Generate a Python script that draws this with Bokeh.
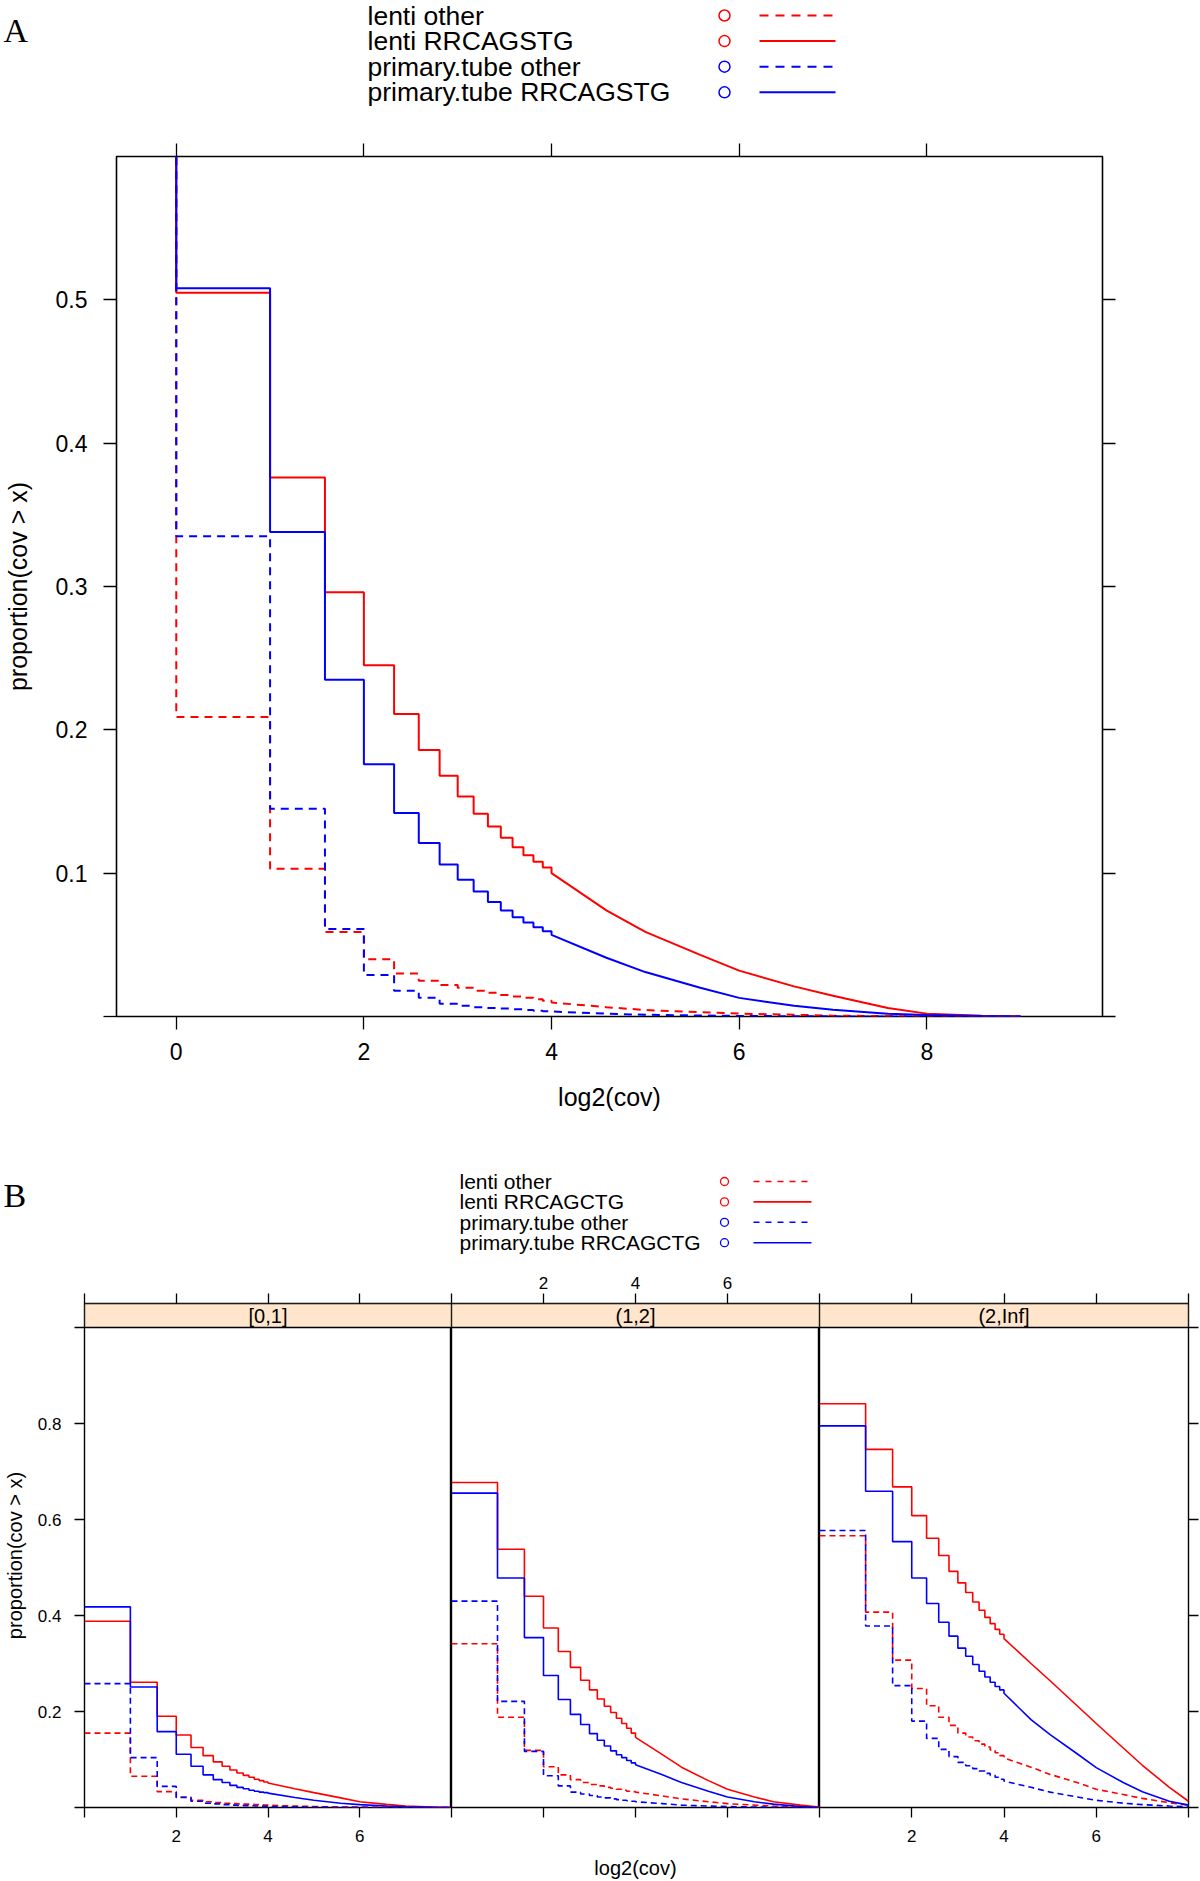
import numpy as np
from bokeh.plotting import figure
from bokeh.layouts import column, row
from bokeh.models import Range1d, FixedTicker, LinearAxis
from bokeh.embed import file_html
from bokeh.resources import INLINE
from bokeh.core.properties import value

SANS = "Liberation Sans"
SERIF = "Liberation Serif"

# ---------------- data ----------------
series_names_a = ["lenti other", "lenti RRCAGSTG", "primary.tube other", "primary.tube RRCAGSTG"]
series_names_b = ["lenti other", "lenti RRCAGCTG", "primary.tube other", "primary.tube RRCAGCTG"]
series_colors = ["red", "red", "blue", "blue"]
series_dashed = [True, False, True, False]
start_value = 1.0  # proportion(cov > x) left of the first coverage step

# Panel A: coverage thresholds (x = log2(cov)) and proportions
cov_a = [1, 2, 3, 4, 5, 6, 7, 8, 9, 10, 11, 12, 13, 14, 15, 16, 24, 32, 48, 64, 96, 128, 192, 256, 384, 512]
a_lenti_other = [0.209, 0.103, 0.059, 0.040, 0.030, 0.025, 0.022, 0.020, 0.018, 0.0165, 0.015, 0.014, 0.013,
                 0.012, 0.011, 0.0098, 0.0065, 0.0045, 0.003, 0.002, 0.0012, 0.0006, 0.0003, 0.0001, 0.0, 0.0]
a_lenti_motif = [0.505, 0.376, 0.296, 0.245, 0.211, 0.186, 0.168, 0.1535, 0.1414, 0.1326, 0.1247, 0.118, 0.1125,
                 0.108, 0.104, 0.100, 0.074, 0.059, 0.043, 0.032, 0.021, 0.0145, 0.006, 0.002, 0.0005, 0.0]
a_tube_other = [0.335, 0.145, 0.061, 0.029, 0.018, 0.013, 0.0089, 0.0075, 0.0065, 0.006, 0.0055, 0.005, 0.0045,
                0.004, 0.0037, 0.0035, 0.002, 0.0012, 0.0007, 0.0004, 0.0002, 0.0001, 0.0, 0.0, 0.0, 0.0]
a_tube_motif = [0.508, 0.338, 0.235, 0.176, 0.142, 0.121, 0.106, 0.0954, 0.0872, 0.0798, 0.074, 0.0693, 0.0656,
                0.0623, 0.0595, 0.057, 0.041, 0.031, 0.020, 0.013, 0.0075, 0.0047, 0.002, 0.001, 0.0003, 0.0]

a_yticks = [0.1, 0.2, 0.3, 0.4, 0.5]
a_xticks = [0, 2, 4, 6, 8]

# Panel B: three coverage strata
strip_labels = ["[0,1]", "(1,2]", "(2,Inf]"]
cov_b = [1, 2, 3, 4, 5, 6, 7, 8, 9, 10, 11, 12, 13, 14, 15, 16, 24, 32, 48, 64, 96, 128, 192, 256]

b1_lenti_other = [0.155, 0.065, 0.033, 0.0215, 0.015, 0.012, 0.0105, 0.009, 0.008, 0.0075, 0.007, 0.0065, 0.006,
                  0.0055, 0.005, 0.0046, 0.003, 0.002, 0.001, 0.0005, 0.0002, 0.0001, 0.0, 0.0]
b1_lenti_motif = [0.388, 0.261, 0.19, 0.151, 0.125, 0.108, 0.095, 0.086, 0.078, 0.072, 0.067, 0.063, 0.059,
                  0.056, 0.053, 0.051, 0.039, 0.031, 0.020, 0.012, 0.0065, 0.003, 0.001, 0.0]
b1_tube_other = [0.258, 0.104, 0.044, 0.021, 0.013, 0.009, 0.0075, 0.006, 0.005, 0.0045, 0.004, 0.0035, 0.003,
                 0.0028, 0.0025, 0.002, 0.0015, 0.001, 0.0005, 0.0002, 0.0001, 0.0, 0.0, 0.0]
b1_tube_motif = [0.418, 0.251, 0.158, 0.111, 0.086, 0.068, 0.058, 0.052, 0.046, 0.042, 0.039, 0.036, 0.034,
                 0.032, 0.031, 0.030, 0.021, 0.015, 0.009, 0.006, 0.003, 0.0015, 0.0005, 0.0]

b2_lenti_other = [0.341, 0.188, 0.119, 0.085, 0.068, 0.058, 0.052, 0.048, 0.045, 0.042, 0.040, 0.038, 0.036,
                  0.034, 0.033, 0.032, 0.024, 0.018, 0.012, 0.008, 0.005, 0.003, 0.001, 0.0]
b2_lenti_motif = [0.677, 0.538, 0.44, 0.374, 0.325, 0.292, 0.265, 0.245, 0.226, 0.211, 0.198, 0.186, 0.175,
                  0.165, 0.155, 0.146, 0.110, 0.084, 0.056, 0.038, 0.022, 0.012, 0.005, 0.001]
b2_tube_other = [0.43, 0.221, 0.117, 0.066, 0.045, 0.032, 0.028, 0.025, 0.022, 0.020, 0.018, 0.0165, 0.015,
                 0.014, 0.013, 0.012, 0.008, 0.005, 0.003, 0.002, 0.001, 0.0005, 0.0002, 0.0]
b2_tube_motif = [0.655, 0.478, 0.354, 0.275, 0.225, 0.194, 0.173, 0.154, 0.14, 0.128, 0.118, 0.110, 0.104,
                 0.098, 0.093, 0.089, 0.068, 0.052, 0.034, 0.022, 0.012, 0.007, 0.002, 0.0]

b3_lenti_other = [0.566, 0.407, 0.307, 0.248, 0.212, 0.188, 0.171, 0.155, 0.147, 0.139, 0.132, 0.126, 0.120,
                  0.114, 0.108, 0.103, 0.084, 0.069, 0.052, 0.038, 0.027, 0.019, 0.010, 0.005]
b3_lenti_motif = [0.841, 0.746, 0.668, 0.608, 0.561, 0.525, 0.492, 0.468, 0.448, 0.428, 0.411, 0.396, 0.383,
                  0.371, 0.361, 0.352, 0.300, 0.264, 0.212, 0.175, 0.124, 0.088, 0.042, 0.013]
b3_tube_other = [0.577, 0.378, 0.254, 0.18, 0.144, 0.121, 0.106, 0.094, 0.087, 0.081, 0.076, 0.071, 0.067,
                 0.063, 0.059, 0.055, 0.042, 0.032, 0.022, 0.015, 0.009, 0.006, 0.003, 0.0015]
b3_tube_motif = [0.795, 0.659, 0.554, 0.478, 0.425, 0.386, 0.357, 0.332, 0.315, 0.298, 0.284, 0.272, 0.261,
                 0.252, 0.245, 0.238, 0.183, 0.152, 0.112, 0.083, 0.052, 0.033, 0.013, 0.005]

b_panels = [
    [b1_lenti_other, b1_lenti_motif, b1_tube_other, b1_tube_motif],
    [b2_lenti_other, b2_lenti_motif, b2_tube_other, b2_tube_motif],
    [b3_lenti_other, b3_lenti_motif, b3_tube_other, b3_tube_motif],
]
b_yticks = [0.2, 0.4, 0.6, 0.8]
b_xticks = [2, 4, 6]


# ---------------- helpers ----------------
def step_path(cov, vals, start=None, last_step_cov=16):
    lx = np.log2(np.asarray(cov, dtype=float))
    xs, ys = [], []
    if start is not None:
        xs.append(lx[0]); ys.append(start)
    for i in range(len(lx)):
        if i > 0 and cov[i] <= last_step_cov:
            xs.append(lx[i]); ys.append(vals[i - 1])
        xs.append(lx[i]); ys.append(vals[i])
    return xs, ys


def style_axis(ax, label_px, tick_len, title_px=None, standoff=5, title_standoff=5):
    ax.axis_line_color = None
    ax.major_tick_line_color = "black"
    ax.minor_tick_line_color = "black"
    ax.major_tick_line_width = 1.3
    ax.minor_tick_line_width = 1.3
    ax.major_tick_in = 0
    ax.minor_tick_in = 0
    ax.major_tick_out = tick_len
    ax.minor_tick_out = tick_len
    ax.major_label_text_font = SANS
    ax.major_label_text_font_size = f"{label_px}px"
    ax.major_label_text_color = "black"
    ax.major_label_standoff = standoff
    ax.axis_label_text_font = SANS
    ax.axis_label_text_font_style = "normal"
    ax.axis_label_text_color = "black"
    if title_px:
        ax.axis_label_text_font_size = f"{title_px}px"
    ax.axis_label_standoff = title_standoff


def blank_fig(w, h, xr, yr, **kw):
    p = figure(width=w, height=h, x_range=xr, y_range=yr, toolbar_location=None,
               output_backend="svg", x_axis_location=None, y_axis_location=None, **kw)
    p.grid.visible = False
    p.background_fill_color = "white"
    p.border_fill_color = "white"
    return p


W = 1200

# ---------------- legend A (page coordinates 0..1200 x 0..128) ----------------
legA = blank_fig(W, 128, Range1d(0, W), Range1d(128, 0), min_border=0, outline_line_color=None)
rowsA = [15 + 25.6 * i for i in range(4)]
legA.text(x=[367] * 4, y=rowsA, text=series_names_a, text_font=value(SANS), text_font_size="26.5px",
          text_baseline="middle", text_align="left", text_color="black")
legA.scatter(x=[724] * 4, y=rowsA, marker="circle", size=11, fill_color=None,
             line_color=series_colors, line_width=1.5)
for yy, c, d in zip(rowsA, series_colors, series_dashed):
    legA.segment(x0=[759], x1=[835], y0=[yy], y1=[yy], line_color=c, line_width=2,
                 line_dash="9 7" if d else "solid")
legA.text(x=[3], y=[30], text=["A"], text_font=value(SERIF), text_font_size="34px",
          text_baseline="alphabetic", text_align="left", text_color="black")

# ---------------- panel A ----------------
pA = blank_fig(W, 1020, Range1d(-0.637, 9.873), Range1d(0, 0.6),
               min_border_left=112, min_border_right=98, min_border_top=28, min_border_bottom=132)
pA.outline_line_color = "black"
pA.outline_line_width = 1.6

axL = LinearAxis(ticker=FixedTicker(ticks=a_yticks, minor_ticks=[0.0]), axis_label="proportion(cov > x)")
style_axis(axL, 23, 13, title_px=25, standoff=16, title_standoff=21)
pA.add_layout(axL, "left")
axBt = LinearAxis(ticker=FixedTicker(ticks=a_xticks), axis_label="log2(cov)")
style_axis(axBt, 23, 13, title_px=25, standoff=13, title_standoff=20)
pA.add_layout(axBt, "below")
axT = LinearAxis(ticker=FixedTicker(ticks=[], minor_ticks=a_xticks))
style_axis(axT, 23, 13, standoff=0)
pA.add_layout(axT, "above")
axR = LinearAxis(ticker=FixedTicker(ticks=[], minor_ticks=[0.0] + a_yticks))
style_axis(axR, 23, 13, standoff=0)
pA.add_layout(axR, "right")

for vals, c, d in zip([a_lenti_other, a_lenti_motif, a_tube_other, a_tube_motif], series_colors, series_dashed):
    xs, ys = step_path(cov_a, vals, start=start_value)
    pA.line(xs, ys, line_color=c, line_width=2, line_dash="8 6" if d else "solid")

# ---------------- legend B (page coordinates, y 1148..1267) ----------------
legB = blank_fig(W, 119, Range1d(0, W), Range1d(1267, 1148), min_border=0, outline_line_color=None)
rowsB = [1181 + 20.4 * i for i in range(4)]
legB.text(x=[459] * 4, y=rowsB, text=series_names_b, text_font=value(SANS), text_font_size="21px",
          text_baseline="middle", text_align="left", text_color="black")
legB.scatter(x=[724] * 4, y=rowsB, marker="circle", size=8, fill_color=None,
             line_color=series_colors, line_width=1.3)
for yy, c, d in zip(rowsB, series_colors, series_dashed):
    legB.segment(x0=[753], x1=[811], y0=[yy], y1=[yy], line_color=c, line_width=1.6,
                 line_dash="6 6" if d else "solid")
legB.text(x=[3], y=[1195], text=["B"], text_font=value(SERIF), text_font_size="34px",
          text_baseline="alphabetic", text_align="left", text_color="black")

# ---------------- panel B ----------------
panel_ws = [369, 368, 369]
figs = []
for i, (lab, panel) in enumerate(zip(strip_labels, b_panels)):
    left_b = 82 if i == 0 else 0
    right_b = 12 if i == 2 else 0
    p = blank_fig(panel_ws[i] + left_b + right_b, 614, Range1d(0, 8), Range1d(0, 1.05),
                  min_border_left=left_b, min_border_right=right_b, min_border_top=36, min_border_bottom=73)
    p.outline_line_color = "black"
    p.outline_line_width = 1.4

    # strip
    p.quad(left=[0], right=[8], bottom=[1.0], top=[1.05], fill_color="#FFE5CC", line_color="black",
           line_width=1.4)
    p.text(x=[4], y=[1.025], text=[lab], text_font=value(SANS), text_font_size="20px",
           text_align="center", text_baseline="middle", text_color="black")

    for vals, c, d in zip(panel, series_colors, series_dashed):
        xs, ys = step_path(cov_b, vals)
        p.line(xs, ys, line_color=c, line_width=1.6, line_dash="6 4" if d else "solid")

    # axes (lattice alternating layout)
    if i == 0:
        ax = LinearAxis(ticker=FixedTicker(ticks=b_yticks, minor_ticks=[0.0, 1.0]), axis_label="proportion(cov > x)")
        style_axis(ax, 17, 10, title_px=20, standoff=13, title_standoff=9)
        p.add_layout(ax, "left")
    if i == 2:
        ax = LinearAxis(ticker=FixedTicker(ticks=[], minor_ticks=[0.0] + b_yticks + [1.0]))
        style_axis(ax, 17, 10, standoff=0)
        p.add_layout(ax, "right")
    if i == 1:
        axb = LinearAxis(ticker=FixedTicker(ticks=[], minor_ticks=[0, 2, 4, 6, 8]), axis_label="log2(cov)")
        style_axis(axb, 17, 10, title_px=20, standoff=0, title_standoff=39)
        p.add_layout(axb, "below")
        axt = LinearAxis(ticker=FixedTicker(ticks=b_xticks, minor_ticks=[0, 8]))
        style_axis(axt, 17, 10, standoff=5)
        p.add_layout(axt, "above")
    else:
        axb = LinearAxis(ticker=FixedTicker(ticks=b_xticks, minor_ticks=[0, 8]))
        style_axis(axb, 17, 10, standoff=12)
        p.add_layout(axb, "below")
        axt = LinearAxis(ticker=FixedTicker(ticks=[], minor_ticks=[0, 2, 4, 6, 8]))
        style_axis(axt, 17, 10, standoff=0)
        p.add_layout(axt, "above")
    figs.append(p)

layout = column(row(legA), pA, row(legB), row(*figs, spacing=0), spacing=0)

open("out.html", "w").write(file_html(layout, INLINE))
